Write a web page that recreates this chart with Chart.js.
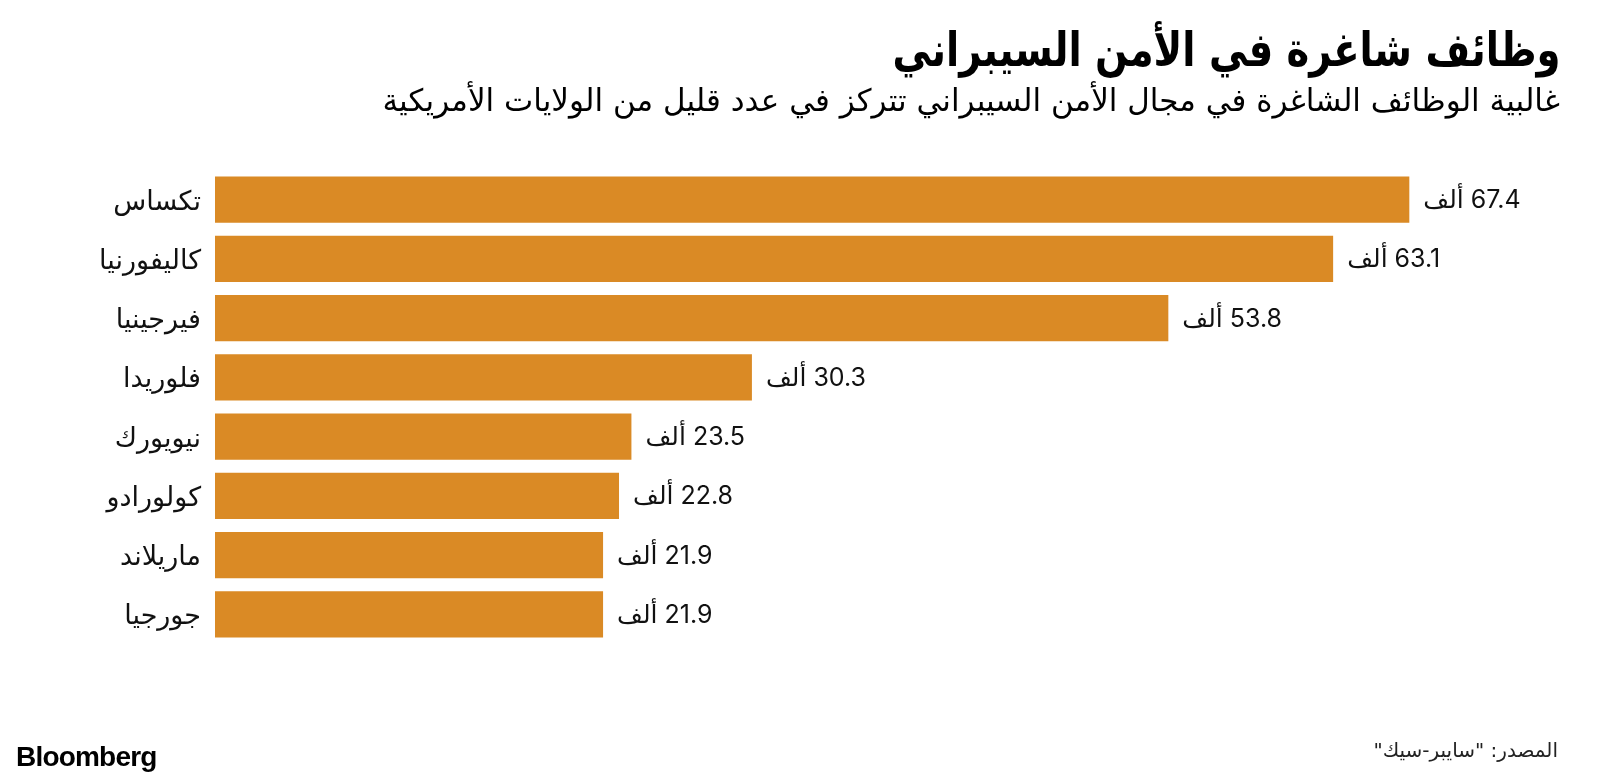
<!DOCTYPE html>
<html lang="ar">
<head>
<meta charset="utf-8">
<script src="https://cdn.jsdelivr.net/npm/chart.js@4.4.1/dist/chart.umd.min.js"></script>
<style>
  html, body { margin: 0; padding: 0; background: #ffffff; }
  body { width: 1600px; height: 782px; position: relative; overflow: hidden; font-family: "DejaVu Sans", sans-serif; }
  #wrap { position: absolute; left: 0; top: 0; width: 1600px; height: 782px; }
  .t { position: absolute; direction: rtl; white-space: nowrap; color: #000; transform-origin: right top; }
  #title { right: 40px; top: 22px; font-size: 47px; font-weight: bold; transform: scaleX(0.82); }
  #subtitle { right: 40px; top: 82px; font-size: 31px; }
  #source { right: 42px; top: 738px; font-size: 20px; color: #222; }
  #brand { position: absolute; left: 16px; top: 741px; font-family: "Liberation Sans", Arial, sans-serif; font-weight: bold; font-size: 28px; letter-spacing: -0.8px; color: #000; }
</style>
</head>
<body>
<div id="wrap"><canvas id="c" width="1600" height="782"></canvas></div>
<div class="t" id="title">وظائف شاغرة في الأمن السيبراني</div>
<div class="t" id="subtitle">غالبية الوظائف الشاغرة في مجال الأمن السيبراني تتركز في عدد قليل من الولايات الأمريكية</div>
<div class="t" id="source">المصدر: "سايبر-سيك"</div>
<div id="brand">Bloomberg</div>
<script>
const states = ["تكساس", "كاليفورنيا", "فيرجينيا", "فلوريدا", "نيويورك", "كولورادو", "ماريلاند", "جورجيا"];
const jobsThousands = [67.4, 63.1, 53.8, 30.3, 23.5, 22.8, 21.9, 21.9];
const unitLabel = "ألف";

const valueLabels = {
  id: 'valueLabels',
  afterDatasetsDraw(chart) {
    const ctx = chart.ctx;
    const meta = chart.getDatasetMeta(0);
    ctx.save();
    ctx.font = '25px Inter, "DejaVu Sans", sans-serif';
    ctx.fillStyle = '#111';
    ctx.direction = 'rtl';
    ctx.textAlign = 'left';
    ctx.textBaseline = 'middle';
    meta.data.forEach((bar, i) => {
      ctx.fillText(jobsThousands[i] + ' ' + unitLabel, bar.x + 14, bar.y + 1);
    });
    ctx.restore();
  }
};

new Chart(document.getElementById('c'), {
  type: 'bar',
  data: {
    labels: states,
    datasets: [{
      data: jobsThousands,
      backgroundColor: '#DA8A25',
      borderWidth: 0,
      barPercentage: 0.78,
      categoryPercentage: 1.0
    }]
  },
  options: {
    indexAxis: 'y',
    responsive: false,
    animation: false,
    devicePixelRatio: 1,
    layout: { padding: { top: 170, bottom: 138, left: 0, right: 56 } },
    plugins: { legend: { display: false }, tooltip: { enabled: false }, title: { display: false } },
    scales: {
      x: {
        min: 0, max: 75,
        display: false,
        grid: { display: false }
      },
      y: {
        grid: { display: false, drawBorder: false },
        border: { display: false },
        ticks: {
          color: '#111',
          padding: 6,
          labelOffset: 3,
          font: { family: '"DejaVu Sans", sans-serif', size: 27 }
        },
        afterFit(scale) { scale.width = 215; }
      }
    }
  },
  plugins: [valueLabels]
});
</script>
</body>
</html>
